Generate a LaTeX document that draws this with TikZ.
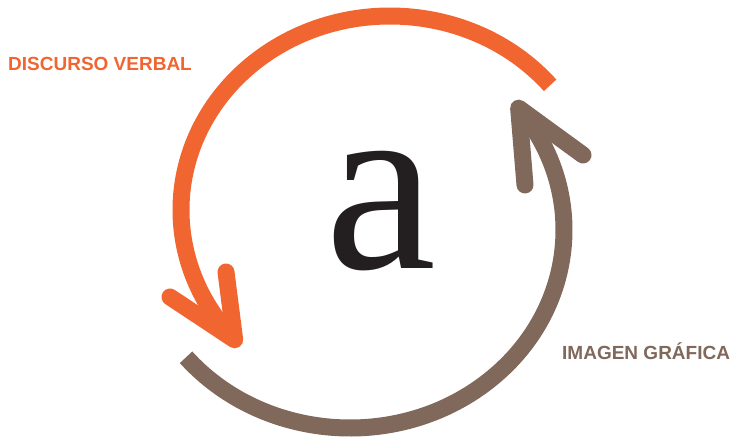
\documentclass[tikz,border=0pt]{standalone}
\usepackage{fontspec}
\newfontfamily\labelfont{Liberation Sans}
\newfontfamily\letterfont{Liberation Serif}
\usepackage{tikz}
\usetikzlibrary{calc}
\definecolor{verbalcolor}{RGB}{241,101,49}
\definecolor{imagecolor}{RGB}{128,104,91}
\definecolor{lettercolor}{RGB}{35,31,32}

\begin{document}
\begin{tikzpicture}[x=1pt, y=-1pt,
    loop/.style={line width=17pt},
    barb/.style={line width=17pt, line cap=round, line join=round},
    caption/.style={font=\labelfont\bfseries\fontsize{19}{22}\selectfont, anchor=base west, inner sep=0pt}]
  \useasboundingbox (0,0) rectangle (731,439);

  % Centres of the two half loops
  \coordinate (verbal centre) at (390,210);
  \coordinate (image centre) at (350,230);

  % Letter in the middle
  \node[lettercolor, anchor=base, inner sep=0pt, font=\letterfont\fontsize{250}{250}\selectfont] (letter) at (381,268) {a};

  % Orange loop: top right, over the top, down the left
  \coordinate (verbal tail) at ($(verbal centre)+(-40:209 and 194)$);
  \coordinate (verbal tip) at ($(verbal centre)+(-222:209 and 194)$);
  \draw[loop, verbalcolor] (verbal tail) arc[start angle=-40, end angle=-222, x radius=209, y radius=194];
  \coordinate (verbal barb a) at (170,297);
  \coordinate (verbal barb b) at (226,272);
  \draw[barb, verbalcolor] (verbal barb a) -- (verbal tip) -- (verbal barb b);

  % Brown loop: bottom left, under the bottom, up the right
  \coordinate (image tail) at ($(image centre)+(140:214 and 198)$);
  \coordinate (image tip) at ($(image centre)+(-38:214 and 198)$);
  \draw[loop, imagecolor] (image tail) arc[start angle=140, end angle=-38, x radius=214, y radius=198];
  \coordinate (image barb a) at (525,185);
  \coordinate (image barb b) at (583,155);
  \draw[barb, imagecolor] (image barb a) -- (image tip) -- (image barb b);

  % Labels
  \node[caption, verbalcolor] (verbal label) at (8,70) {DISCURSO VERBAL};
  \node[caption, imagecolor] (image label) at (562,359) {IMAGEN GRÁFICA};

\end{tikzpicture}
\end{document}
